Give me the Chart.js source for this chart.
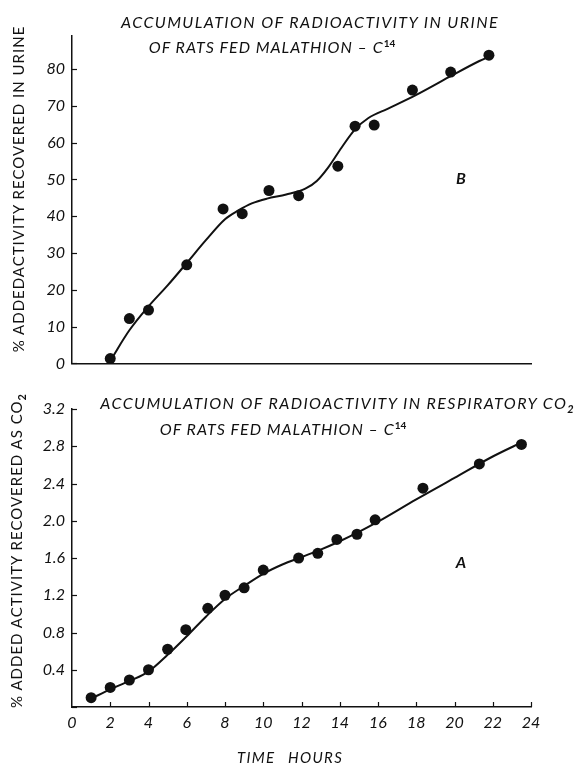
<!DOCTYPE html>
<html>
<head>
<meta charset="utf-8">
<script src="https://cdn.jsdelivr.net/npm/chart.js@4.4.0/dist/chart.umd.min.js"></script>
<style>
  body { margin: 0; background: #fff; width: 576px; height: 765px; position: relative; overflow: hidden; font-family: Lato, sans-serif; color: #111; }
  .box { position: absolute; left: 0; width: 576px; }
  .txt { position: absolute; white-space: nowrap; font-style: italic; font-size: 16px; line-height: 1; transform: translate(-50%, -50%); }
  .wide { letter-spacing: 1.4px; }
  .mid { letter-spacing: 1px; }
  .ytitle { position: absolute; white-space: nowrap; font-size: 15px; letter-spacing: 1px; line-height: 1; transform: translate(-50%, -50%) rotate(-90deg); }
  sup { font-size: 10px; font-weight: bold; font-style: normal; vertical-align: 6px; letter-spacing: 0; }
  sub { font-size: 11px; font-weight: bold; vertical-align: -4px; letter-spacing: 0; }
</style>
</head>
<body>
<div class="box" style="top:0;height:380px"><canvas id="urineChart" width="576" height="380"></canvas></div>
<div class="box" style="top:380px;height:385px"><canvas id="co2Chart" width="576" height="385"></canvas></div>

<div class="txt wide" style="left:310px;top:22px">ACCUMULATION OF RADIOACTIVITY IN URINE</div>
<div class="txt mid" style="left:272px;top:46px">OF RATS FED MALATHION – C<sup>14</sup></div>
<div class="txt" style="left:461px;top:178px;font-weight:bold">B</div>
<div class="ytitle" style="left:18px;top:189px">% ADDEDACTIVITY RECOVERED IN URINE</div>

<div class="txt wide" style="left:337px;top:404px">ACCUMULATION OF RADIOACTIVITY IN RESPIRATORY CO<sub>2</sub></div>
<div class="txt mid" style="left:283px;top:428px">OF RATS FED MALATHION – C<sup>14</sup></div>
<div class="txt" style="left:461px;top:562px;font-weight:bold">A</div>
<div class="ytitle" style="left:18px;top:551px">% ADDED ACTIVITY RECOVERED AS CO<sub>2</sub></div>
<div class="txt" style="left:290px;top:757px;font-size:15px;letter-spacing:1.3px;word-spacing:8px">TIME HOURS</div>

<script>
// Urine (B) - measured points and the drawn curve
const urineHours = [2, 3, 4, 6, 7.9, 8.9, 10.3, 11.85, 13.9, 14.8, 15.8, 17.8, 19.8, 21.8];
const urinePct = [1.3, 12.2, 14.5, 26.8, 42, 40.7, 47, 45.6, 53.6, 64.5, 64.8, 74.3, 79.2, 83.8];
const urineCurveHours = [2, 3, 4, 5, 6, 7, 8, 8.7, 9.4, 10.2, 11.2, 12.2, 12.8, 13.4, 14.1, 14.8, 15.5, 16.5, 18, 19.7, 21.3, 21.9];
const urineCurvePct = [0.7, 9, 15.5, 21.2, 27.3, 33.5, 39.2, 41.6, 43.5, 44.8, 45.9, 47.5, 49.6, 53.3, 58.7, 63.6, 66.7, 69.2, 73, 77.8, 82.2, 83.6];

// Respiratory CO2 (A) - measured points and the drawn curve
const co2Hours = [1, 2, 3, 4, 5, 5.95, 7.1, 8, 9, 10, 11.85, 12.85, 13.85, 14.9, 15.85, 18.35, 21.3, 23.5];
const co2Pct = [0.10, 0.21, 0.29, 0.40, 0.62, 0.83, 1.06, 1.20, 1.28, 1.47, 1.60, 1.65, 1.80, 1.855, 2.01, 2.35, 2.61, 2.82];
const co2CurveHours = [1, 2, 3, 4, 5, 6, 7, 8, 9, 10, 11, 12, 13, 14, 15, 16, 18, 20, 22, 23.6];
const co2CurvePct = [0.09, 0.19, 0.28, 0.38, 0.56, 0.76, 0.97, 1.16, 1.30, 1.43, 1.53, 1.61, 1.69, 1.78, 1.88, 1.99, 2.23, 2.46, 2.69, 2.85];

// axis ticks
const hourTicks = [0, 2, 4, 6, 8, 10, 12, 14, 16, 18, 20, 22, 24];

const ink = '#111';
const tickFont = { family: 'Lato', size: 16, style: 'italic' };

function pairs(xs, ys) {
    return xs.map((x, i) => ({ x: x, y: ys[i] }));
}

// small tick marks drawn on the inside of the axes
const inwardTicks = {
    id: 'inwardTicks',
    afterDraw(chart, args, opts) {
        const { ctx, chartArea } = chart;
        ctx.save();
        ctx.strokeStyle = ink;
        ctx.lineWidth = 1.2;
        const ys = chart.scales.y;
        ys.ticks.forEach(t => {
            const py = Math.round(ys.getPixelForValue(t.value)) + 0.5;
            ctx.beginPath();
            ctx.moveTo(chartArea.left, py);
            ctx.lineTo(chartArea.left + 5, py);
            ctx.stroke();
        });
        if (opts.xTicks) {
            const xs = chart.scales.x;
            xs.ticks.forEach(t => {
                if (t.value === 0) return;
                const px = Math.round(xs.getPixelForValue(t.value)) + 0.5;
                ctx.beginPath();
                ctx.moveTo(px, chartArea.bottom);
                ctx.lineTo(px, chartArea.bottom - 5);
                ctx.stroke();
            });
        }
        ctx.restore();
    }
};

function buildChart(canvasId, cfg) {
    const ctx = document.getElementById(canvasId).getContext('2d');
    return new Chart(ctx, {
        type: 'scatter',
        data: {
            datasets: [
                {
                    data: pairs(cfg.curveX, cfg.curveY),
                    showLine: true,
                    borderColor: ink,
                    borderWidth: 2,
                    pointRadius: 0,
                    cubicInterpolationMode: 'monotone',
                    clip: false
                },
                {
                    data: pairs(cfg.pointX, cfg.pointY),
                    showLine: false,
                    pointRadius: 5.5,
                    pointBackgroundColor: ink,
                    pointBorderWidth: 0,
                    clip: false
                }
            ]
        },
        options: {
            responsive: false,
            animation: false,
            layout: {
                padding: { left: 0, top: cfg.padTop, right: 45, bottom: 0 }
            },
            plugins: {
                legend: { display: false },
                tooltip: { enabled: false },
                inwardTicks: { xTicks: cfg.xLabels }
            },
            scales: {
                x: {
                    type: 'linear',
                    min: 0,
                    max: 24,
                    afterFit: function (scale) { scale.height = cfg.xHeight; },
                    afterBuildTicks: function (scale) {
                        scale.ticks = hourTicks.map(v => ({ value: v }));
                    },
                    grid: { display: false, drawTicks: false },
                    border: { display: true, color: ink, width: 1.5 },
                    ticks: {
                        display: cfg.xLabels,
                        color: ink,
                        font: tickFont,
                        padding: 6,
                        maxRotation: 0
                    }
                },
                y: {
                    min: 0,
                    max: cfg.yMax,
                    afterFit: function (scale) { scale.width = 72; },
                    afterBuildTicks: function (scale) {
                        scale.ticks = cfg.yTicks.map(v => ({ value: v }));
                    },
                    grid: { display: false, drawTicks: false },
                    border: { display: true, color: ink, width: 1.5 },
                    ticks: {
                        color: ink,
                        font: tickFont,
                        padding: 7,
                        callback: cfg.yLabel
                    }
                }
            }
        },
        plugins: [inwardTicks]
    });
}

buildChart('urineChart', {
    curveX: urineCurveHours, curveY: urineCurvePct,
    pointX: urineHours, pointY: urinePct,
    padTop: 36, yMax: 89, xHeight: 10, xLabels: false,
    yTicks: [0, 10, 20, 30, 40, 50, 60, 70, 80],
    yLabel: function (value) { return value; }
});

buildChart('co2Chart', {
    curveX: co2CurveHours, curveY: co2CurvePct,
    pointX: co2Hours, pointY: co2Pct,
    padTop: 29, yMax: 3.2, xHeight: 58, xLabels: true,
    yTicks: [0, 0.4, 0.8, 1.2, 1.6, 2.0, 2.4, 2.8, 3.2],
    yLabel: function (value) { return value === 0 ? '' : value.toFixed(1); }
});
</script>
</body>
</html>
